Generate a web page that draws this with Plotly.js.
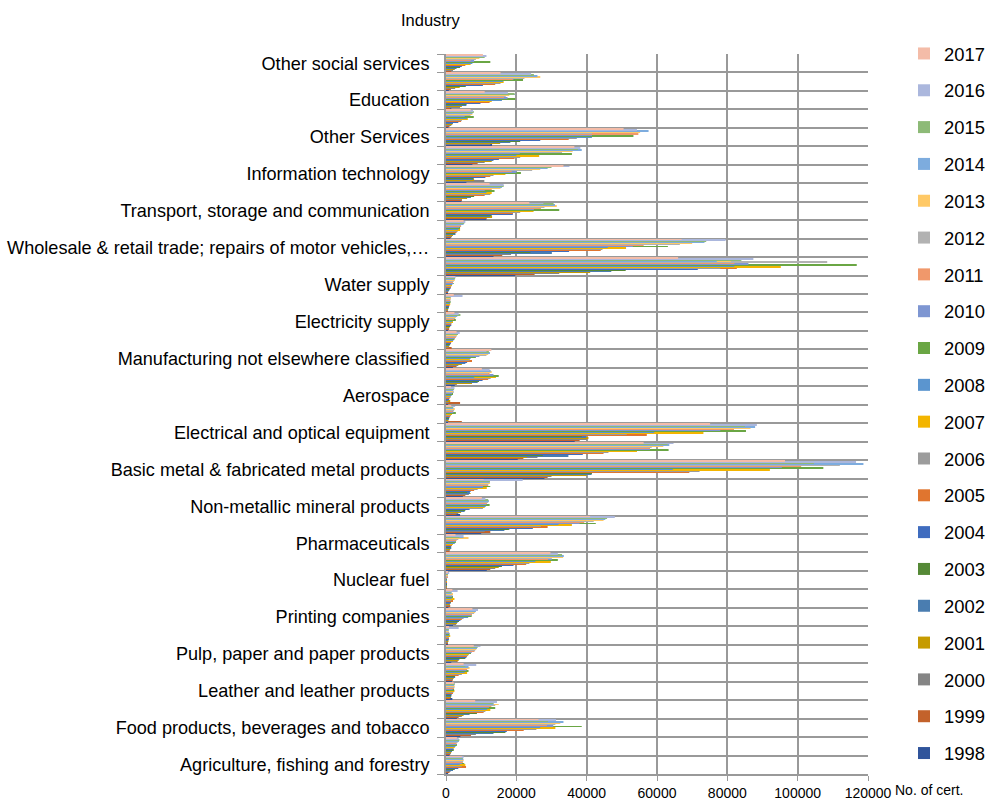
<!DOCTYPE html>
<html><head><meta charset="utf-8">
<script src="https://cdn.plot.ly/plotly-3.0.1.min.js"></script>
<style>html,body{margin:0;padding:0;background:#fff}#chart{width:987px;height:801px}</style>
</head><body><div id="chart"></div>
<script>
const years = [1998,1999,2000,2001,2002,2003,2004,2005,2006,2007,2008,2009,2010,2011,2012,2013,2014,2015,2016,2017];
const colors = ['#30549B','#C3622B','#858585','#C69B00','#4A7DB0','#558936','#3F6CBF','#E0752F','#9C9C9C','#F3B500','#5B95CF','#6AA644','#7E96D2','#F0986B','#B2B2B2','#FFC966','#7DACDE','#8DBA77','#ABB7DD','#F4BCA8'];
const categories = [
  'Agriculture, fishing and forestry','Mining and quarrying','Food products, beverages and tobacco','Textiles and textile products',
  'Leather and leather products','Manufacture of wood and wood products','Pulp, paper and paper products','Publishing companies',
  'Printing companies','Manufacture of coke and refined petroleum products','Nuclear fuel','Chemicals, chemical products and fibres',
  'Pharmaceuticals','Rubber and plastic products','Non-metallic mineral products','Concrete, cement, lime, plaster etc',
  'Basic metal & fabricated metal products','Machinery and equipment','Electrical and optical equipment','Shipbuilding',
  'Aerospace','Other transport equipment','Manufacturing not elsewhere classified','Recycling',
  'Electricity supply','Gas supply','Water supply','Construction',
  'Wholesale & retail trade; repairs of motor vehicles,\u2026','Hotels and restaurants','Transport, storage and communication','Financial intermediation, real estate, renting',
  'Information technology','Engineering services','Other Services','Public administration',
  'Education','Health and social work','Other social services'
];
// values per industry, 1998 ... 2017
const agriculture = [600,1000,1300,1600,2000,2500,3500,5700,4500,5500,3900,5200,4500,4800,4900,5000,4900,4700,5000,4500];
const mining = [1000,1200,1400,1500,1700,2200,2000,1900,2200,2500,2700,3100,2900,3000,3300,3500,3700,3800,3600,3100];
const food = [4100,7100,8500,11200,13500,16900,17300,22100,25700,31100,26800,38600,30500,28700,31100,32500,33400,29000,31300,26300];
const textiles = [3100,3600,4500,5000,6700,8800,9600,10700,11200,12600,11700,14000,12200,12900,14000,15000,13500,13500,14500,8300];
const leather = [1800,1200,1300,1400,1500,1500,1600,2000,2100,2400,2200,2300,1900,2300,2400,2400,2300,2500,2500,2200];
const wood = [1700,1900,2000,2200,2600,2500,3000,3600,4500,6000,5300,6400,5800,6000,6300,6700,6400,5500,8600,5000];
const pulp = [1500,3300,3000,3600,3800,5500,5800,6000,6300,6500,7000,7100,7300,8100,8300,8600,8800,9000,9800,7900];
const publishing = [300,400,500,700,600,700,800,700,800,1200,900,1000,900,800,700,700,800,800,3600,900];
const printing = [2000,2500,2900,3100,3300,3700,4100,4500,5000,6000,6300,7300,7100,7400,8000,8300,8500,8700,9100,7500];
const coke = [700,1200,1000,1100,1300,1400,1200,2000,1500,2400,1600,2000,1800,1600,1800,2000,1600,1500,3300,1800];
const nuclear = [50,60,70,80,90,100,120,150,180,200,230,250,250,300,350,400,450,500,900,500];
const chemicals = [11600,12600,14000,15000,15600,15900,19200,22800,23700,29800,25400,31800,30100,29000,30100,33300,33500,33000,31800,29700];
const pharma = [800,1000,1000,1200,1500,1300,1500,1700,1800,2000,2500,2800,2700,3000,3500,6400,5000,3800,5000,2700];
const rubber = [10000,12600,11000,13400,16600,18000,24700,28900,27000,35800,32000,42600,38000,39300,42000,44800,45300,45800,48000,41000];
const nonMetallic = [4000,3000,3500,4300,5300,5500,6700,7800,10500,11000,11300,12400,11500,11600,12000,12000,12200,12000,11200,10200];
const concrete = [4800,5500,6500,7000,6800,6000,7000,8000,9000,11600,10500,12600,10500,12000,12000,12500,12400,12500,21800,10700];
const basicMetal = [28000,28900,30000,40000,41400,41500,50200,69200,72100,92100,64500,107300,95500,101000,112000,115300,118700,104600,116600,96400];
const machinery = [20400,22000,26000,23000,34800,27500,38900,44800,46200,54300,58000,63300,58000,58000,58500,61800,63500,63000,64700,56200];
const electrical = [36600,38000,40000,40500,39900,38600,43800,57100,51400,73200,59200,85300,78000,81900,86000,86600,87900,85000,88400,75100];
const shipbuilding = [400,4500,500,700,800,900,1000,1200,1400,1700,1500,2800,2100,1900,2300,2500,2100,2000,2600,1500];
const aerospace = [600,4000,800,1200,600,700,900,1000,1300,1300,1600,2000,1700,1900,2200,2000,2100,2300,2400,1400];
const otherTransport = [2500,3000,3000,7400,9000,9400,10400,12000,12700,14200,8000,15000,13500,12400,12000,13000,12700,12400,12400,10200];
const manufacturingNec = [2000,3000,3500,4500,5500,5000,6000,7400,6700,6700,7000,8500,9500,10500,11500,12000,12500,12200,11500,12900];
const recycling = [500,1600,800,900,1000,1200,1400,1500,1700,2000,2100,2400,2500,2800,3000,3100,3300,3400,3900,3000];
const electricity = [500,900,800,1000,1100,1200,1500,1400,1600,2000,1800,2800,2200,2300,2600,2800,3200,4100,3600,2400];
const gas = [300,400,500,600,700,800,900,1000,1000,1200,1100,1300,1200,1200,1300,1400,1300,1200,4700,2200];
const water = [300,500,700,800,900,1000,1300,1400,1500,1700,1800,2200,2000,2000,2200,2500,2400,2600,2700,2500];
const construction = [19700,25200,32200,41000,47000,51100,71600,82700,78000,95200,82000,116800,86000,82000,108400,81000,77000,84000,87400,66000];
const wholesale = [13500,16000,18500,22400,30100,24000,35000,44000,44500,51200,46000,63100,53100,56200,66500,70000,73500,74000,79500,67000];
const hotels = [1200,1500,1700,2000,2700,2500,2800,3000,3300,4000,3500,4000,3800,4300,4200,4800,5000,5200,5500,5000];
const transport = [11500,11500,11000,13100,12600,13000,19000,19000,21100,24900,27300,32200,25000,27000,28000,31500,31000,30600,27700,23700];
const financial = [4400,4500,4500,6000,7100,8000,9500,11000,12600,13000,11500,13800,11000,13000,14000,15500,15900,16400,16400,12400];
const infoTech = [5800,6400,10900,8000,7700,7900,11200,12600,13500,16900,12400,21300,20000,18700,24500,26800,28900,30000,35100,33400];
const engineering = [7500,9000,11000,13000,13500,15000,15000,19500,21100,26500,20000,35800,21000,31000,33000,36000,38600,37500,38200,36500];
const otherServices = [13100,12100,12600,15400,18300,21100,26800,34900,37200,39600,41500,53300,41500,54700,41500,55200,57600,53000,54300,50500];
const publicAdmin = [700,1000,1500,1800,2000,2500,3500,4300,4500,6200,6000,7900,5300,6000,7000,7500,7500,7900,7700,7000];
const education = [1500,1200,4000,4500,5800,5800,9800,12400,12500,13000,15900,19700,17500,16500,17000,18000,19700,19500,17600,11000];
const health = [800,1400,2600,3900,5500,5600,10500,14000,15500,16400,16200,21900,19200,19000,22300,26800,26000,25000,24200,15500];
const otherSocial = [500,1500,2000,2500,3000,4000,4500,5500,6500,7000,7500,12600,8000,7000,8500,9500,10000,11000,11500,10500];
const xTicks = [0,20000,40000,60000,80000,100000,120000];

const rows = [agriculture,mining,food,textiles,leather,wood,pulp,publishing,printing,coke,nuclear,chemicals,
  pharma,rubber,nonMetallic,concrete,basicMetal,machinery,electrical,shipbuilding,aerospace,otherTransport,
  manufacturingNec,recycling,electricity,gas,water,construction,wholesale,hotels,transport,financial,infoTech,
  engineering,otherServices,publicAdmin,education,health,otherSocial];

const yIndex = categories.map((_, i) => i);
const shown = yIndex.filter(i => i % 2 === 0);

const traces = years.map((yr, k) => ({
  type: 'bar', orientation: 'h', name: String(yr),
  x: rows.map(r => r[k]), y: yIndex,
  marker: {color: colors[k], line: {width: 0}},
  legendgroup: 'g' + yr, legendrank: 3000 - yr,
  text: categories, hovertemplate: '%{text}<br>' + yr + ': %{x}<extra></extra>', textposition: 'none'
}));

const gridC = '#999999';
const layout = {
  width: 987, height: 801,
  margin: {l: 446, r: 119, t: 54, b: 27, pad: 0},
  paper_bgcolor: '#fff', plot_bgcolor: '#fff',
  barmode: 'group', bargap: 0.05, bargroupgap: 0,
  font: {family: '"Liberation Sans", Arial, sans-serif', color: '#000', size: 14},
  showlegend: true,
  xaxis: {
    range: [0, 120000], tickmode: 'array', tickvals: xTicks, ticktext: xTicks.map(String),
    ticks: 'outside', ticklen: 5, tickcolor: gridC, tickwidth: 1,
    showgrid: true, gridcolor: gridC, gridwidth: 1.8,
    showline: true, linecolor: gridC, linewidth: 1.8, zeroline: false,
    tickfont: {size: 14}, fixedrange: true
  },
  yaxis: {
    range: [-0.5, 38.5], tickmode: 'array', tickvals: shown, ticktext: shown.map(i => categories[i]),
    ticks: '', showgrid: false, zeroline: false, showline: true, linecolor: gridC, linewidth: 1.8,
    tickfont: {size: 18.1}, ticklabelstandoff: 11,
    minor: {tickmode: 'linear', tick0: 0.5, dtick: 1, showgrid: true, gridcolor: gridC, gridwidth: 1.8,
            ticks: 'outside', ticklen: 7, tickcolor: gridC, tickwidth: 1.2},
    fixedrange: true
  },
  legend: {
    xref: 'container', yref: 'container', x: 904/987, y: 1 - 35/801, xanchor: 'left', yanchor: 'top',
    traceorder: 'grouped', tracegroupgap: 9.9, font: {size: 18.4}, itemwidth: 30, maxheight: 790,
    bgcolor: 'rgba(0,0,0,0)', borderwidth: 0
  },
  annotations: [
    {text: 'Industry', xref: 'paper', yref: 'paper', x: -0.036, y: 1 + 34/720, xanchor: 'center', yanchor: 'middle',
     showarrow: false, font: {size: 16.5}},
    {text: 'No. of cert.', xref: 'paper', yref: 'paper', x: (893 - 446)/422, y: -16/720, xanchor: 'left', yanchor: 'middle',
     showarrow: false, font: {size: 14}}
  ]
};
Plotly.newPlot('chart', traces, layout, {displayModeBar: false});
</script></body></html>
